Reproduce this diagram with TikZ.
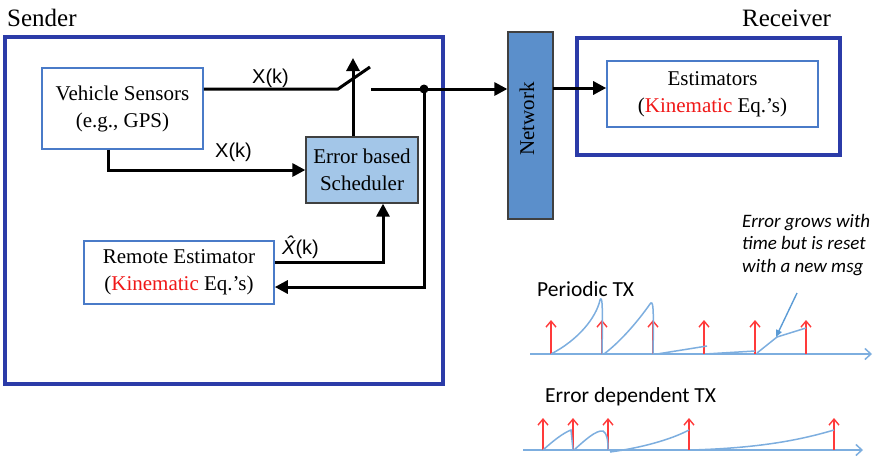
\documentclass[tikz,border=0pt]{standalone}
\usepackage{fontspec}
\setmainfont{Liberation Serif}
\newfontfamily\calfont{Carlito}
\newfontfamily\arlfont{Liberation Sans}
\usetikzlibrary{arrows.meta}
\definecolor{frameblue}{HTML}{2B3BA8}
\definecolor{boxblue}{HTML}{4A7BC8}
\definecolor{netblue}{HTML}{5B8FCB}
\definecolor{schedblue}{HTML}{A3C6E8}
\definecolor{kinred}{HTML}{F01818}
\definecolor{pulsered}{HTML}{FF3A3A}
\definecolor{curveblue}{HTML}{7DAEDF}
\definecolor{annblue}{HTML}{5B9BD5}
\begin{document}
\begin{tikzpicture}[x=1pt,y=-1pt,
  frame/.style={draw=frameblue,line width=3.5pt},
  inbox/.style={draw=boxblue,line width=1.6pt,fill=white,align=center,
    font=\fontsize{21}{27}\selectfont,inner sep=0pt},
  title/.style={font=\fontsize{25}{30}\selectfont,inner sep=0pt,anchor=base west},
  sig/.style={font=\arlfont\fontsize{20}{24}\selectfont,inner sep=0pt,anchor=base west},
  conn/.style={line width=3pt},
  arr/.style={conn,-{Triangle[length=13pt,width=13pt]}},
  pulse/.style={draw=pulsered,line width=1.4pt,-{Straight Barb[length=6pt,width=10pt]}},
  err/.style={draw=curveblue,line width=1.5pt},
  axis/.style={draw=curveblue,line width=1.5pt,-{Straight Barb[length=6pt,width=11pt]}},
  gtext/.style={font=\calfont\fontsize{21.5}{26}\selectfont,inner sep=0pt,anchor=base west}
]
\useasboundingbox (0,0) rectangle (882,459);

% frames
\node[frame,minimum width=438pt,minimum height=347pt,inner sep=0pt] (sender) at (224,210.5) {};
\node[frame,minimum width=263pt,minimum height=117pt,inner sep=0pt] (receiver) at (708.5,96.5) {};
\node[title] (sendertitle) at (7,26) {Sender};
\node[title] (receivertitle) at (742,26) {Receiver};

% boxes
\node[inbox,minimum width=161pt,minimum height=81pt] (vs) at (122.5,108.5) {Vehicle Sensors\\(e.g., GPS)};
\node[inbox,draw=black!75,fill=schedblue,line width=1.3pt,minimum width=112pt,minimum height=66pt] (sched) at (362,170) {Error based\\Scheduler};
\node[inbox,minimum width=190pt,minimum height=63pt] (re) at (179,272.5) {Remote Estimator\\(\textcolor{kinred}{Kinematic} Eq.’s)};
\node[inbox,minimum width=211pt,minimum height=66pt] (est) at (712.5,94) {Estimators\\(\textcolor{kinred}{Kinematic} Eq.’s)};
\node[draw=black!75,fill=netblue,line width=1.3pt,minimum width=45pt,minimum height=187pt,inner sep=0pt] (net) at (530.5,125.5) {};
\node[rotate=90,font=\fontsize{21}{24}\selectfont,inner sep=0pt] (nettext) at (527,119) {Network};

% switch and connectors
\coordinate (sw1) at (338,89);
\coordinate (sw2) at (370,67);
\coordinate (swtip) at (353,58);
\coordinate (swout) at (371,89);
\coordinate (dot) at (424,89);
\coordinate (c1) at (108,169);
\coordinate (c2) at (383,262);
\coordinate (c3) at (424,287);
\coordinate (c4) at (553,88);

\draw[conn] (vs.east |- sw1) -- (sw1) -- (sw2);
\draw[arr] (sched.north -| swtip) -- (swtip);
\draw[arr] (swout) -- (net.west |- swout);
\fill (dot) circle (4.5pt);
\draw[arr] (vs.south -| c1) |- (sched.west);
\draw[arr] (re.east |- c2) -| (sched.south -| c2);
\draw[arr] (dot) -- (c3) -- (re.east |- c3);
\draw[arr] (c4) -- (est.west |- c4);

\node[sig] (xk1) at (252,83) {X(k)};
\node[sig] (xk2) at (215,157) {X(k)};
\node[sig] (xhat) at (282,254) {\itshape\^{X}\upshape(k)};

% timing graphs
\node[gtext] (ptx) at (537,296) {Periodic TX};
\node[gtext] (etx) at (545,402) {Error dependent TX};
\node[font=\calfont\itshape\fontsize{19}{22.5}\selectfont,align=left,inner sep=0pt,anchor=north west] (note) at (742,214)
  {Error grows with\\time but is reset\\with a new msg};

\draw[axis] (530,354) -- (872,354);
\draw[axis] (523,450) -- (863,450);

\foreach \x in {551,602,653,704,755,806} \draw[pulse] (\x,354) -- (\x,320);
\foreach \x in {543,573,608,689,834} \draw[pulse] (\x,450) -- (\x,418);

\draw[err] (551,354) .. controls (578,340) and (596,318) .. (600,300) .. controls (602,296) and (603,300) .. (602,354);
\draw[err] (604,354) .. controls (625,338) and (643,314) .. (650,304) .. controls (653,300) and (654,304) .. (653,354);
\draw[err] (657,354) -- (707,346);
\draw[err] (705,354) -- (755,351);
\draw[err] (757,353) -- (777,337) -- (806,328);
\draw[err] (543,450) .. controls (553,441) and (563,433) .. (571,430) -- (573,450);
\draw[err] (574,450) .. controls (585,440) and (596,430) .. (603,431) .. controls (607,433) and (608,440) .. (608,450);
\draw[err] (610,452) .. controls (640,448) and (670,440) .. (689,430);
\draw[err] (691,450) .. controls (760,448) and (800,440) .. (834,430);
\draw[draw=annblue,line width=1.4pt,-{Triangle[length=7pt,width=6pt]}] (797,293) -- (776,337);
\end{tikzpicture}
\end{document}
